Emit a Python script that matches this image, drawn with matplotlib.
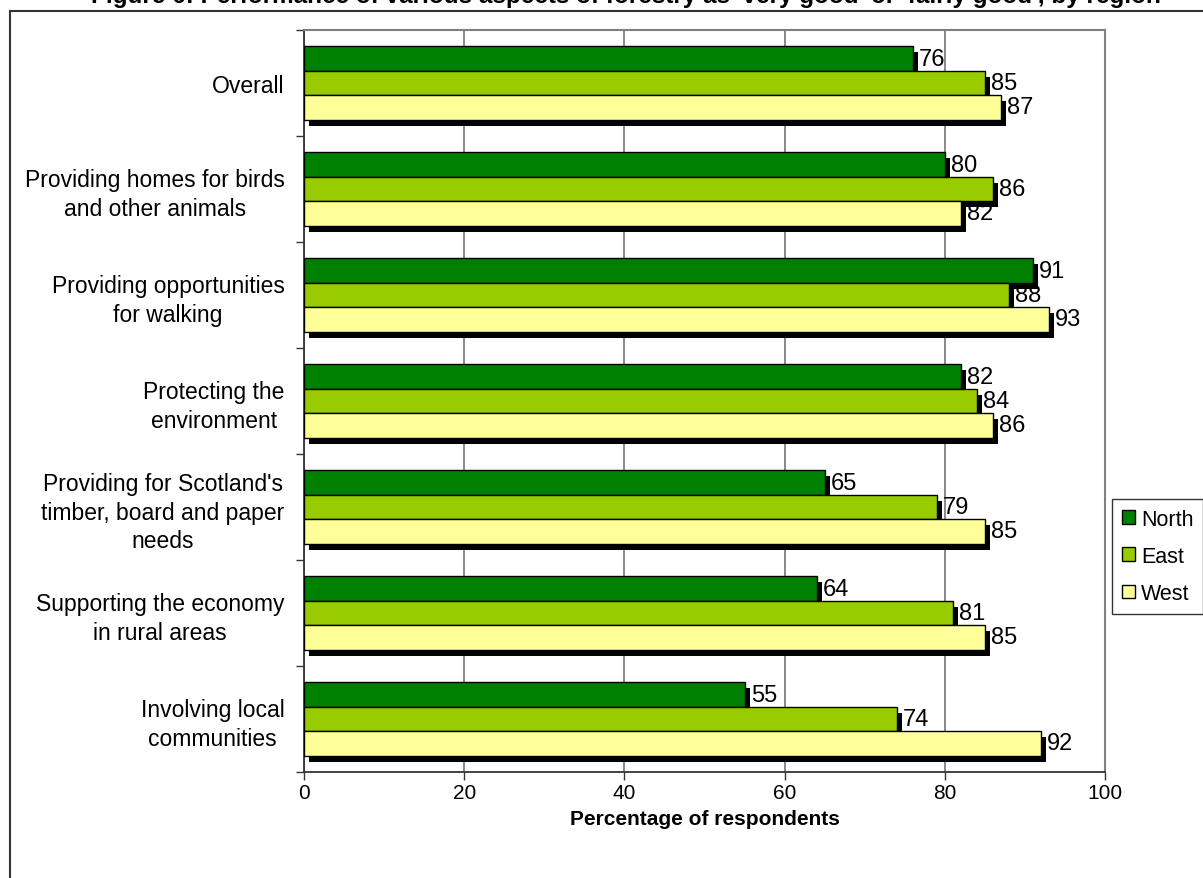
import numpy as np
import matplotlib
matplotlib.use('Agg')
import matplotlib.pyplot as plt
import matplotlib.patheffects as pe
from matplotlib.patches import Rectangle, Patch

plt.rcParams['font.family'] = ['Liberation Sans', 'DejaVu Sans']

categories = ['Overall',
              'Providing homes for birds\nand other animals',
              'Providing opportunities\nfor walking',
              'Protecting the\nenvironment',
              "Providing for Scotland's\ntimber, board and paper\nneeds",
              'Supporting the economy\nin rural areas',
              'Involving local\ncommunities']
regions = ['North', 'East', 'West']
north = [76, 80, 91, 82, 65, 64, 55]
east = [85, 86, 88, 84, 79, 81, 74]
west = [87, 82, 93, 86, 85, 85, 92]
colors = ['#008000', '#99CC00', '#FFFF99']

fig = plt.figure(figsize=(12.03, 8.79), dpi=100)
ax = fig.add_axes([304 / 1203, 106 / 879, 801 / 1203, 742 / 879])

# outer chart border (cut off right and bottom like the source)
fig.patches.append(Rectangle((10 / 1203, -0.05), 1.2, 0.05 + (879 - 12) / 879,
                             transform=fig.transFigure, fill=False,
                             edgecolor='#333333', linewidth=1.5))

# title sits mostly above the top edge, as in the source
fig.text(0.52, 1 - 3.5 / 879,
         "Figure 6: Performance of various aspects of forestry as 'very good' or 'fairly good', by region",
         ha='center', va='baseline', fontsize=17.5, fontweight='bold')

y = np.arange(len(categories))
h = 0.23
shadow = [pe.SimplePatchShadow(offset=(3.6, -4.3), shadow_rgbFace='black', alpha=1.0), pe.Normal()]

for i, vals in enumerate([north, east, west]):
    pos = y + (i - 1) * h
    bars = ax.barh(pos, vals, height=h, color=colors[i], edgecolor='black',
                   linewidth=1, zorder=3)
    for b in bars:
        b.set_path_effects(shadow)
    for p, v in zip(pos, vals):
        ax.annotate(str(v), (v, p), xytext=(4.5, 0), textcoords='offset points',
                    va='center', ha='left', fontsize=17, zorder=5)

ax.set_xlim(0, 100)
ax.set_ylim(len(categories) - 0.5, -0.5)
ax.set_xticks(range(0, 101, 20))
ax.set_yticks(y)
ax.set_yticklabels(categories, fontsize=16.5, multialignment='center', linespacing=1.3)
ax.set_yticks(np.arange(-0.5, len(categories)), minor=True)
ax.tick_params(axis='y', which='major', length=0, pad=14)
ax.tick_params(axis='y', which='minor', length=6, width=1, direction='out', color='#333333')
ax.tick_params(axis='x', labelsize=15, length=6, width=1, direction='out', pad=2, color='#333333')

ax.grid(axis='x', color='#808080', linewidth=1.3, zorder=0)
ax.set_axisbelow(True)
for s in ['top', 'right']:
    ax.spines[s].set_color('#808080')
    ax.spines[s].set_linewidth(1.5)
for s in ['left', 'bottom']:
    ax.spines[s].set_color('#333333')
    ax.spines[s].set_linewidth(1.3)

ax.set_xlabel('Percentage of respondents', fontsize=15, fontweight='bold', labelpad=5)

handles = [Patch(facecolor=c, edgecolor='black', linewidth=1) for c in colors]
leg = ax.legend(handles, regions, loc='upper left', bbox_to_anchor=(1112 / 1203, (879 - 500) / 879),
                bbox_transform=fig.transFigure, fontsize=15.5, frameon=True, fancybox=False,
                edgecolor='black', handlelength=0.6, handleheight=0.6, handletextpad=0.3,
                labelspacing=0.75, borderpad=0.45, borderaxespad=0)
leg.get_frame().set_linewidth(1)

fig.savefig('out.png', dpi=100)
